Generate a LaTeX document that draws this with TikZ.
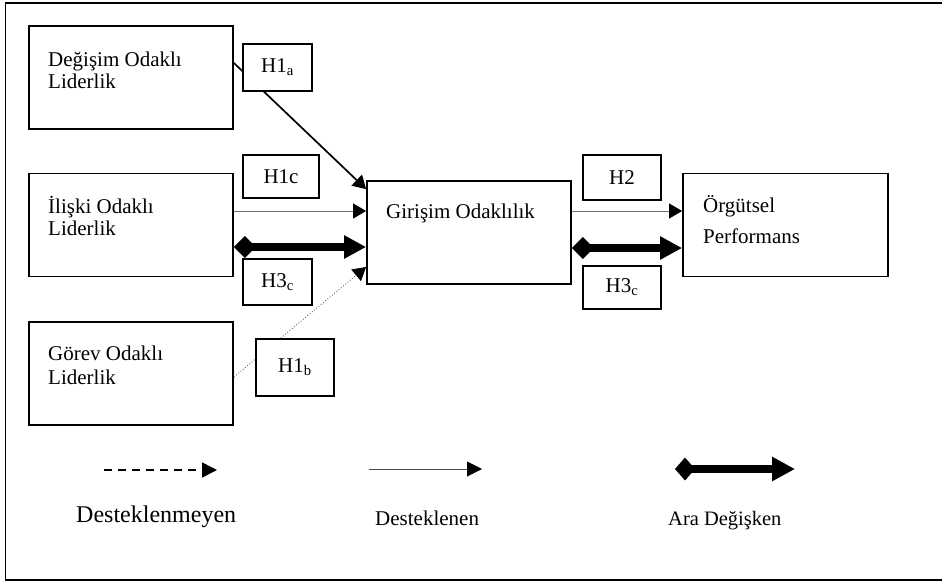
\documentclass[tikz,border=0pt]{standalone}
\usepackage{fontspec}
\setmainfont{Liberation Serif}
\usepackage{tikz}
\usetikzlibrary{arrows.meta}

\tikzset{
  kutu/.style={draw, line width=1.8pt, minimum width=204pt, minimum height=103pt, inner sep=0pt},
  hkutu/.style={draw, line width=1.8pt, fill=white, inner sep=0pt, font=\fontsize{21}{22}\selectfont},
  yazi/.style={anchor=base west, inner sep=0pt, align=left, font=\fontsize{21}{22}\selectfont},
  guclu/.style={line width=1.7pt, -{Triangle[length=13pt,width=15pt]}},
  destekli/.style={draw=black!55, line width=0.9pt, -{Triangle[length=13pt,width=15pt,color=black]}},
  desteksiz/.style={draw=black!60, dotted, line width=0.9pt, -{Triangle[length=13pt,width=15pt,color=black]}},
  araci/.style={line width=7.5pt, {Diamond[length=22pt,width=22pt]}-{Triangle[length=22pt,width=22pt]}}
}

\begin{document}
\begin{tikzpicture}[x=1pt, y=-1pt]
\useasboundingbox (0,0) rectangle (942,582);

% Dis cerceve
\draw[line width=1.8pt] (5.5,3) rectangle (960,580);

% Ana kutular
\node[kutu] (degisim) at (131,77.5) {};
\node[kutu] (iliski) at (131,225) {};
\node[kutu] (gorev) at (131,373.5) {};
\node[kutu] (girisim) at (469,232.5) {};
\node[kutu, minimum width=205pt] (orgutsel) at (785.5,225) {};

% Kutu yazilari (son satirin tabanina gore)
\node[yazi] (tdegisim) at (48,88) {Değişim Odaklı\\Liderlik};
\node[yazi] (tiliski) at (48,235) {İlişki Odaklı\\Liderlik};
\node[yazi] (tgorev) at (48,384) {Görev Odaklı\\[2pt]Liderlik};
\node[yazi] (tgirisim) at (386,218) {Girişim Odaklılık};
\node[yazi] (torgutsel) at (703,243) {Örgütsel\\[9pt]Performans};

% Oklar
\draw[guclu] ([yshift=14.5pt]degisim.east) -- ([yshift=-9pt]girisim.north west);
\draw[destekli] ([yshift=14pt]iliski.east) -- ([yshift=21.5pt]girisim.west);
\draw[araci] ([yshift=-22pt]iliski.east) -- ([yshift=-14.5pt]girisim.west);
\draw[desteksiz] ([yshift=-3.5pt]gorev.east) -- ([yshift=-34.5pt]girisim.west);
\draw[destekli] ([yshift=21.5pt]girisim.east) -- ([yshift=14pt]orgutsel.west);
\draw[araci] ([yshift=-15.5pt]girisim.east) -- ([yshift=-23pt]orgutsel.west);

% Hipotez kutulari
\node[hkutu, minimum width=69pt, minimum height=47pt] (h1a) at (277.5,67.5) {H1\textsubscript{a}};
\node[hkutu, minimum width=76pt, minimum height=43pt] (h1c) at (281,176.5) {H1c};
\node[hkutu, minimum width=69pt, minimum height=46pt] (h3sol) at (277.5,282) {H3\textsubscript{c}};
\node[hkutu, minimum width=78pt, minimum height=57pt] (h1b) at (295,367.5) {H1\textsubscript{b}};
\node[hkutu, minimum width=78pt, minimum height=45pt] (h2) at (622,177.5) {H2};
\node[hkutu, minimum width=78pt, minimum height=43pt] (h3sag) at (622,287.5) {H3\textsubscript{c}};

% Aciklama
\coordinate (kesikbas) at (104,470);
\coordinate (kesikson) at (217,470);
\coordinate (incebas) at (369,469);
\coordinate (inceson) at (482,469);
\coordinate (kalinbas) at (675,469);
\coordinate (kalinson) at (795,469);
\draw[line width=1.6pt, dash pattern=on 8pt off 6pt, -{Triangle[length=15pt,width=15pt]}] (kesikbas) -- (kesikson);
\draw[draw=black!70, line width=0.9pt, -{Triangle[length=15pt,width=15pt,color=black]}] (incebas) -- (inceson);
\draw[araci, {Diamond[length=20pt,width=23pt]}-{Triangle[length=23pt,width=23pt]}] (kalinbas) -- (kalinson);
\node[anchor=base west, inner sep=0pt, font=\fontsize{24}{28}\selectfont] (desteklenmeyen) at (76,522) {Desteklenmeyen};
\node[anchor=base west, inner sep=0pt, font=\fontsize{21}{24}\selectfont] (desteklenen) at (375,525) {Desteklenen};
\node[anchor=base west, inner sep=0pt, font=\fontsize{20.5}{24}\selectfont] (aradegisken) at (668,525) {Ara Değişken};

\end{tikzpicture}
\end{document}
